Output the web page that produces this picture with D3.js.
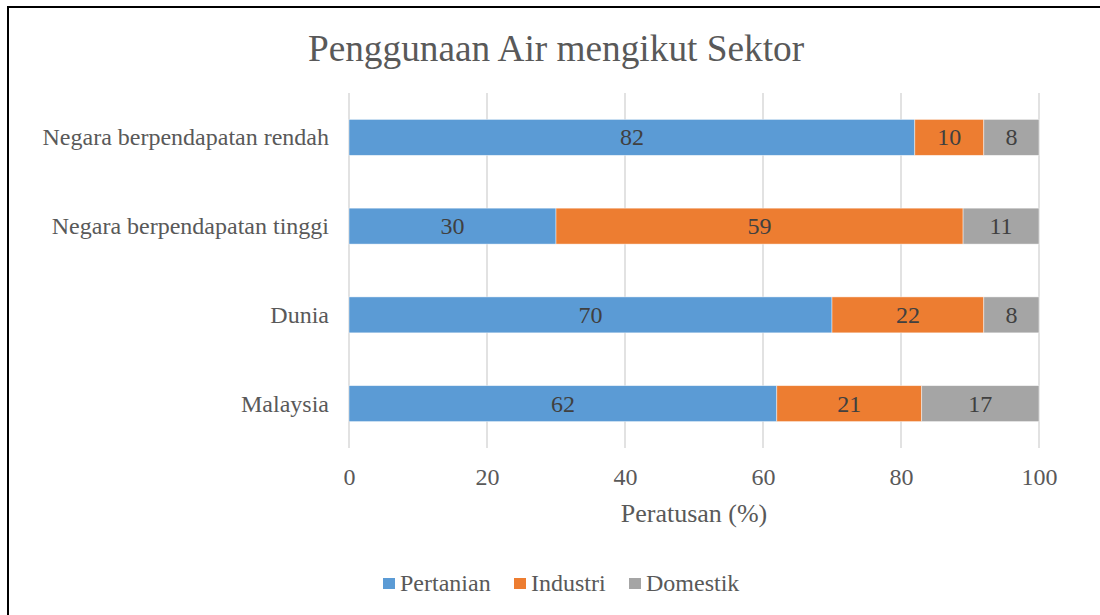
<!DOCTYPE html>
<html><head><meta charset="utf-8">
<script src="https://cdn.jsdelivr.net/npm/d3@7"></script>
<style>body{margin:0;background:#fff}svg{display:block}</style>
</head><body>
<script>
const categories = ["Negara berpendapatan rendah","Negara berpendapatan tinggi","Dunia","Malaysia"];
const seriesNames = ["Pertanian","Industri","Domestik"];
const pertanian = [82,30,70,62];
const industri = [10,59,22,21];
const domestik = [8,11,8,17];
const xTicks = [0,20,40,60,80,100];
const colors = ["#5B9BD5","#ED7D31","#A5A5A5"];

const W=1100,H=615;
const svg=d3.select("body").append("svg").attr("width",W).attr("height",H);
const font="Liberation Serif, Times New Roman, serif";
svg.append("rect").attr("x",8).attr("y",7).attr("width",W).attr("height",H).attr("fill","#fff").attr("stroke","#000").attr("stroke-width",2);

svg.append("text").attr("x",556).attr("y",61).attr("text-anchor","middle").attr("font-family",font).attr("font-size",37.3).attr("fill","#595959").text("Penggunaan Air mengikut Sektor");

const x=d3.scaleLinear().domain([0,100]).range([349,1039]);
const y=d3.scaleBand().domain(categories).range([93,448]).paddingInner(0.595).paddingOuter(0.2975);

const g=svg.append("g");
g.selectAll("line.grid").data(xTicks).join("line").attr("x1",d=>x(d)).attr("x2",d=>x(d)).attr("y1",93).attr("y2",448).attr("stroke","#D9D9D9").attr("stroke-width",1.5);

const rows=categories.map((c,i)=>({c,vals:[pertanian[i],industri[i],domestik[i]]}));
rows.forEach(r=>{
  let acc=0;
  r.vals.forEach((v,j)=>{
    const x0=x(acc),x1=x(acc+v);
    g.append("rect").attr("x",x0).attr("y",y(r.c)).attr("width",x1-x0).attr("height",y.bandwidth()).attr("fill",colors[j]).attr("stroke","#fff").attr("stroke-opacity",0.6).attr("stroke-width",0.75);
    g.append("text").attr("x",(x0+x1)/2).attr("y",y(r.c)+y.bandwidth()/2+8).attr("text-anchor","middle").attr("font-family",font).attr("font-size",24).attr("fill","#404040").text(v);
    acc+=v;
  });
});

g.selectAll("text.cat").data(categories).join("text").attr("x",329).attr("y",d=>y(d)+y.bandwidth()/2+8).attr("text-anchor","end").attr("font-family",font).attr("font-size",24).attr("fill","#595959").text(d=>d);

const ax=svg.append("g").attr("transform","translate(0,448)").call(d3.axisBottom(x).tickValues(xTicks).tickSize(0).tickPadding(0));
ax.select(".domain").remove();
ax.selectAll("text").attr("dy",null).attr("y",37).attr("font-family",font).attr("font-size",24).attr("fill","#595959");

svg.append("text").attr("x",694).attr("y",522).attr("text-anchor","middle").attr("font-family",font).attr("font-size",26).attr("fill","#595959").text("Peratusan (%)");

const legX=[383,514,629];
seriesNames.forEach((n,i)=>{
  svg.append("rect").attr("x",legX[i]).attr("y",578).attr("width",12).attr("height",11).attr("fill",colors[i]);
  svg.append("text").attr("x",legX[i]+17).attr("y",591).attr("font-family",font).attr("font-size",24).attr("fill","#595959").text(n);
});
</script>
</body></html>
